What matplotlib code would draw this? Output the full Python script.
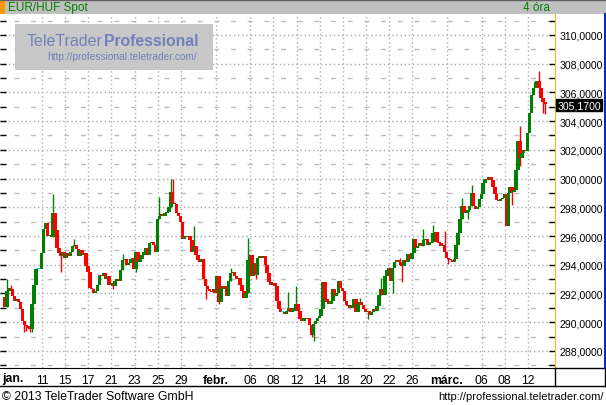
import matplotlib
matplotlib.use("Agg")
import matplotlib.pyplot as plt
from matplotlib.patches import Rectangle
from matplotlib.lines import Line2D
from matplotlib.ticker import FixedLocator
from matplotlib import font_manager
import matplotlib.transforms as mtransforms

plt.rcParams['font.family'] = ['Liberation Sans', 'DejaVu Sans']

# 4-hour EUR/HUF candles, closes (open = previous close)
first_open = 291.75
closes = [
    291.05, 292.2, 292.4, 292.3, 291.8, 291.5, 291.6, 291.4, 290.9, 290.1,
    289.8, 289.7, 289.6, 289.5, 291.3, 292.6, 293.7, 293.7, 293.7, 294.8,
    296.5, 296.9, 296.0, 296.1, 295.9, 297.6, 296.4, 295.2, 294.8, 294.6,
    294.9, 294.5, 294.8, 294.6, 294.9, 295.3, 295.4, 295.1, 294.6, 295.0,
    294.7, 294.8, 293.9, 293.5, 292.4, 292.3, 292.0, 292.2, 292.6, 293.3,
    293.2, 293.4, 293.0, 293.2, 292.6, 292.7, 292.5, 292.9, 293.0, 292.9,
    293.6, 294.3, 294.4, 294.0, 294.1, 294.4, 294.5, 293.7, 294.9, 294.2,
    294.4, 294.7, 294.9, 295.2, 294.7, 295.5, 295.6, 295.4, 294.9, 297.2,
    297.4, 297.5, 297.4, 297.6, 297.7, 298.0, 299.1, 298.3, 298.2, 297.6,
    297.4, 297.0, 295.8, 296.0, 295.9, 296.0, 295.7, 294.9, 295.3, 294.7,
    294.3, 294.2, 294.4, 293.0, 292.5, 292.3, 292.2, 292.1, 292.3, 292.0,
    293.2, 291.4, 292.3, 292.5, 292.4, 291.8, 292.9, 293.4, 293.5, 293.2,
    293.0, 293.1, 292.6, 292.2, 291.7, 292.0, 294.3, 294.7, 293.2, 294.1,
    293.3, 294.5, 294.6, 294.5, 294.6, 294.0, 293.4, 292.8, 292.6, 292.7,
    292.5, 291.5, 290.9, 290.7, 290.7, 290.6, 290.8, 291.0, 290.7, 290.8,
    291.0, 291.3, 290.8, 290.2, 290.1, 290.3, 290.2, 290.3, 289.8, 289.1,
    289.9, 290.1, 290.3, 290.4, 290.9, 292.8, 291.6, 291.4, 291.3, 291.5,
    292.3, 291.8, 292.0, 292.9, 292.4, 292.2, 291.5, 291.2, 291.1, 291.0,
    291.2, 291.6, 290.7, 291.3, 291.4, 291.2, 290.9, 290.7, 290.8, 290.5,
    290.7, 290.9, 290.8, 291.1, 291.9, 292.3, 291.9, 293.2, 293.6, 293.8,
    292.9, 293.8, 294.2, 294.3, 294.2, 294.0, 293.9, 294.3, 294.2, 294.75,
    294.4, 294.8, 295.8, 295.2, 295.3, 295.5, 295.3, 295.7, 295.8, 295.4,
    295.5, 295.6, 296.2, 296.3, 295.6, 295.5, 295.3, 295.4, 294.9, 294.5,
    294.4, 294.3, 294.2, 294.4, 295.4, 296.2, 297.2, 298.1, 297.6, 297.7,
    297.8, 298.1, 299.0, 298.1, 297.9, 298.0, 298.6, 298.9, 299.7, 300.0,
    299.9, 300.1, 299.9, 299.4, 298.9, 298.5, 298.45, 298.6, 298.65, 298.9,
    296.7, 299.0, 299.4, 299.1, 299.2, 300.6, 302.6, 301.4, 301.8, 302.0,
    301.9, 303.2, 304.6, 305.8, 306.3, 306.7, 306.8, 306.3, 305.6, 305.3,
    305.17,
]
# visible wicks (candle index -> price)
highs = {1: 293.0, 3: 292.6, 25: 298.9, 36: 295.8, 61: 294.75, 80: 298.7,
         86: 300.0, 87: 300.0, 98: 296.7, 117: 293.8, 126: 295.85, 147: 292.1,
         151: 292.5, 184: 291.7, 195: 293.1, 205: 294.5, 217: 296.5, 222: 296.8,
         228: 296.35, 237: 298.65, 242: 299.55, 267: 303.65, 277: 307.5}
lows = {10: 289.3, 11: 289.4, 13: 289.3, 14: 289.3, 29: 293.5, 56: 292.3,
        68: 293.5, 103: 292.7, 104: 291.6, 111: 291.25, 130: 293.0, 159: 289.0,
        160: 288.7, 188: 290.2, 201: 292.0, 206: 292.8, 230: 294.05, 240: 297.2,
        263: 298.15, 267: 300.9, 279: 304.6, 280: 304.5}

# trading-day offsets from 11 Jan for the date labels
tick_days = [0, 2, 4, 6, 8, 10, 12, 15, 18, 20, 22, 24, 26, 28, 30, 32, 35, 38, 40, 42]
tick_labels = ['11', '15', '17', '21', '23', '25', '29', 'febr.', '06', '08', '12',
               '14', '18', '20', '22', '26', 'márc.', '06', '08', '12']
last_price = 305.17

# narrow font for the price scale if available
names = {f.name for f in font_manager.fontManager.ttflist}
if 'Liberation Sans Narrow' in names:
    price_font, price_size = 'Liberation Sans Narrow', 8.8
else:
    price_font, price_size = 'Liberation Sans', 7.6

W, H = 606, 406
fig = plt.figure(figsize=(W / 100, H / 100), dpi=100)
fig.patch.set_facecolor('white')


def fx(px):
    return px / W


def fy(py):
    return 1 - py / H


# title bar
fig.patches.append(Rectangle((0, fy(15)), 1, 15 / H, transform=fig.transFigure,
                             facecolor='#c0c0c0', edgecolor='none', zorder=0))
fig.patches.append(Rectangle((0, fy(15)), fx(5), 13 / H, transform=fig.transFigure,
                             facecolor='#ff9900', edgecolor='none', zorder=1))
fig.lines.append(Line2D([0, 1], [fy(0.5), fy(0.5)], transform=fig.transFigure,
                        color='#606060', lw=1))
fig.text(fx(8), fy(8), 'EUR/HUF Spot', color='#008000', fontsize=8.5, va='center')
fig.text(fx(550), fy(8), '4 óra', color='#008000', fontsize=8.5, va='center', ha='right')

ax = fig.add_axes([0, fy(369), fx(555), (369 - 15) / H])
ax.set_facecolor('white')

o = first_open
for i, c in enumerate(closes):
    t = -3.2 + i / 6
    if c > o:
        col = '#008000'
    elif c < o:
        col = '#ff0000'
    else:
        col = '#00e0e0'
    hi = highs.get(i, max(o, c))
    lo = lows.get(i, min(o, c))
    if hi > max(o, c) or lo < min(o, c):
        ax.vlines(t, lo, hi, color=col, lw=1, zorder=3)
    ax.bar(t, max(abs(c - o), 0.06), bottom=min(o, c), width=0.3,
           color=col, linewidth=0, zorder=4)
    o = c

ax.set_xlim(-42 / 11.57, 513 / 11.57)
ax.set_ylim(286.81, 311.46)

major = list(range(288, 312, 2))
minor = list(range(287, 312, 2))
ax.yaxis.set_major_locator(FixedLocator(major))
ax.yaxis.set_minor_locator(FixedLocator(minor))
ax.set_yticklabels([f'{v},0000' for v in major], family=price_font, fontsize=price_size)
ax.tick_params(axis='y', which='both', direction='in', length=4, width=1,
               left=True, right=True, labelleft=False, labelright=True,
               pad=3, colors='black')

ax.set_xticks(tick_days)
ax.set_xticklabels(tick_labels, fontsize=8.8)
ax.tick_params(axis='x', length=0, pad=4.5)
for lbl in ax.get_xticklabels():
    if lbl.get_text() in ('febr.', 'márc.'):
        lbl.set_fontweight('bold')
ax.text(2 / 555, -0.0127, 'jan.', transform=ax.transAxes, fontsize=8.8,
        fontweight='bold', va='top', ha='left')

for v in major:
    ax.axhline(v, color='#a8a8a8', lw=1, ls=(0, (1, 2)), zorder=1)
for v in minor:
    ax.axhline(v, color='#bcbcbc', lw=1, ls=(2, (3.5, 8.5)), zorder=1)
for d in tick_days:
    ax.axvline(d, color='#b0b0b0', lw=1, ls=(0, (1, 2)), zorder=1)

for s in ('left', 'top'):
    ax.spines[s].set_visible(False)
ax.spines['right'].set_color('#f0c000')
ax.spines['bottom'].set_color('black')

# last price marker
trans = mtransforms.blended_transform_factory(ax.transAxes, ax.transData)
ax.text(1.004, last_price - 0.05, '305,1700', transform=trans, color='white',
        family=price_font, fontsize=price_size, va='center', ha='left', zorder=10,
        bbox=dict(facecolor='black', edgecolor='black', pad=0.8))

# watermark
fig.patches.append(Rectangle((fx(15), fy(71)), fx(198), 46 / H, transform=fig.transFigure,
                             facecolor='#c8c8c8', edgecolor='none', zorder=5))
fig.text(fx(27), fy(41), 'TeleTrader', color='#7080b8', fontsize=11.5, va='center', zorder=6)
fig.text(fx(104), fy(41), 'Professional', color='#7080b8', fontsize=11.3,
         fontweight='bold', va='center', zorder=6)
fig.text(fx(47), fy(57), 'http://professional.teletrader.com/', color='#7080b8',
         fontsize=7.3, va='center', zorder=6)

# x band frame and right border
fig.lines.append(Line2D([0, 1], [fy(387), fy(387)], transform=fig.transFigure, color='black', lw=1))
fig.lines.append(Line2D([fx(555), 1], [fy(369), fy(369)], transform=fig.transFigure, color='black', lw=1))
fig.lines.append(Line2D([fx(555), fx(555)], [fy(369), fy(387)], transform=fig.transFigure, color='black', lw=1))
fig.lines.append(Line2D([fx(604.5), fx(604.5)], [fy(15), fy(369)], transform=fig.transFigure, color='#0030c0', lw=1.5))
fig.lines.append(Line2D([fx(604.5), fx(604.5)], [fy(369), fy(387)], transform=fig.transFigure, color='black', lw=1))

# footer
fig.text(fx(2), fy(397), '© 2013 TeleTrader Software GmbH', fontsize=8.8, va='center')
fig.text(fx(604), fy(397), 'http://professional.teletrader.com/', fontsize=8,
         va='center', ha='right')

fig.savefig('out.png', dpi=100)
